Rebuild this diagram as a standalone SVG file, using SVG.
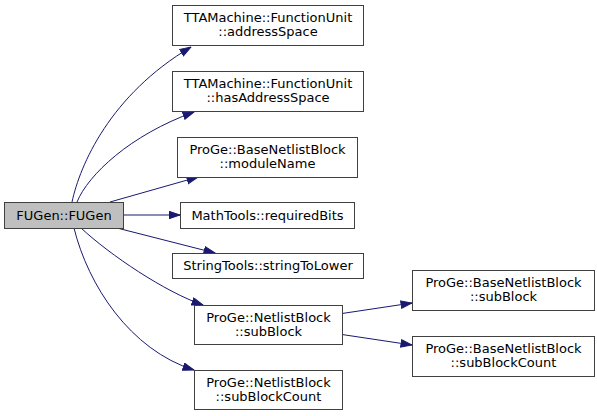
<svg xmlns="http://www.w3.org/2000/svg" width="597" height="416" viewBox="0 0 597 416">
<style>
.n rect{fill:#ffffff;stroke:#404040;stroke-width:1}
.n.root rect{fill:#bfbfbf}
text{font-family:"DejaVu Sans",sans-serif;font-size:13px;fill:#000;text-anchor:middle}
.e path{fill:none;stroke:#191970;stroke-width:1}
</style>
<defs>
<marker id="ah" markerUnits="userSpaceOnUse" markerWidth="12" markerHeight="9" refX="11.5" refY="4.25" orient="auto">
<path d="M0.5,0.5 L11.5,4.25 L0.5,8 z" fill="#191970" stroke="#191970" stroke-width="1"/>
</marker>
</defs>
<rect width="597" height="416" fill="#ffffff"/>
<g id="edges" class="e">
<path marker-end="url(#ah)" d="M72,202 C80,165 110,95 191,47"/>
<path marker-end="url(#ah)" d="M77,202 C88,175 130,135 194,112"/>
<path marker-end="url(#ah)" d="M110,202 L198,177"/>
<path marker-end="url(#ah)" d="M124,215 L180,215"/>
<path marker-end="url(#ah)" d="M117,228 L215,253"/>
<path marker-end="url(#ah)" d="M81,228 C110,255 165,292 203,305"/>
<path marker-end="url(#ah)" d="M74,228 C88,285 130,350 194,370"/>
<path marker-end="url(#ah)" d="M342,313.5 L412,303"/>
<path marker-end="url(#ah)" d="M342,334.5 L412,345"/>
</g>
<g id="n_fugen" class="n root"><rect x="4.5" y="202.5" width="119" height="26"/><text x="64" y="220">FUGen::FUGen</text></g>
<g id="n_addressSpace" class="n"><rect x="172.5" y="5.5" width="191" height="40"/><text x="268" y="22">TTAMachine::FunctionUnit</text><text x="268" y="36">::addressSpace</text></g>
<g id="n_hasAddressSpace" class="n"><rect x="172.5" y="71.5" width="191" height="40"/><text x="268" y="88">TTAMachine::FunctionUnit</text><text x="268" y="102">::hasAddressSpace</text></g>
<g id="n_moduleName" class="n"><rect x="177.5" y="137.5" width="180" height="40"/><text x="267.5" y="154">ProGe::BaseNetlistBlock</text><text x="267.5" y="168">::moduleName</text></g>
<g id="n_requiredBits" class="n"><rect x="180.5" y="202.5" width="174" height="26"/><text x="267.5" y="220">MathTools::requiredBits</text></g>
<g id="n_stringToLower" class="n"><rect x="172.5" y="253.5" width="191" height="25"/><text x="268" y="270">StringTools::stringToLower</text></g>
<g id="n_subBlock" class="n"><rect x="194.5" y="305.5" width="148" height="39"/><text x="268.5" y="322">ProGe::NetlistBlock</text><text x="268.5" y="336">::subBlock</text></g>
<g id="n_subBlockCount" class="n"><rect x="194.5" y="370.5" width="148" height="39"/><text x="268.5" y="387">ProGe::NetlistBlock</text><text x="268.5" y="401">::subBlockCount</text></g>
<g id="n_base_subBlock" class="n"><rect x="412.5" y="270.5" width="182" height="40"/><text x="503.5" y="287">ProGe::BaseNetlistBlock</text><text x="503.5" y="301">::subBlock</text></g>
<g id="n_base_subBlockCount" class="n"><rect x="412.5" y="336.5" width="182" height="40"/><text x="503.5" y="353">ProGe::BaseNetlistBlock</text><text x="503.5" y="367">::subBlockCount</text></g>
</svg>
